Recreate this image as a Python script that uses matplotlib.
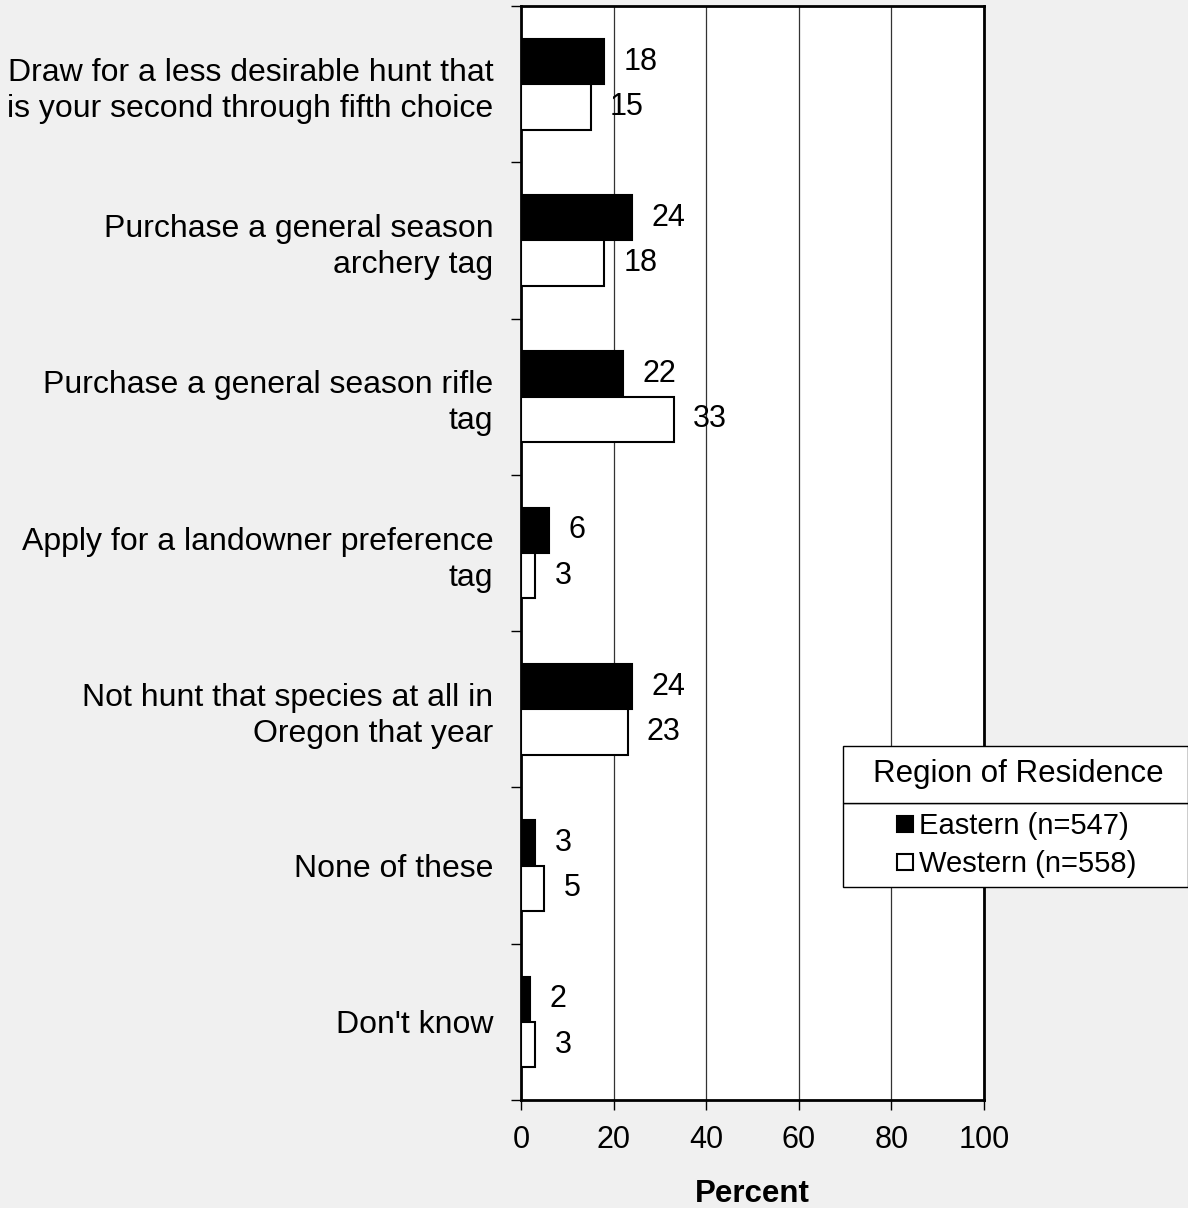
import numpy as np
import matplotlib.pyplot as plt
from matplotlib.lines import Line2D
from matplotlib.patches import Rectangle

plt.rcParams['font.family'] = ['Liberation Sans', 'DejaVu Sans']

# categorias (de cima para baixo) e percentuais por região
categorias = [
    "Draw for a less desirable hunt that\nis your second through fifth choice",
    "Purchase a general season\narchery tag",
    "Purchase a general season rifle\ntag",
    "Apply for a landowner preference\ntag",
    "Not hunt that species at all in\nOregon that year",
    "None of these",
    "Don't know",
]
leste = [18, 24, 22, 6, 24, 3, 2]
oeste = [15, 18, 33, 3, 23, 5, 3]
rotulos_serie = ["Eastern (n=547)", "Western (n=558)"]
titulo_legenda = "Region of Residence"
xticks = [0, 20, 40, 60, 80, 100]

fundo = '#f0f0f0'
fig = plt.figure(figsize=(11.88, 12.08), dpi=100, facecolor=fundo)
ax = fig.add_axes([0.4386, 0.0894, 0.3897, 0.9056])
ax.set_facecolor('white')

y = np.arange(len(categorias))
h = 0.29
ax.barh(y - h / 2, leste, height=h, color='black', edgecolor='black', linewidth=1.5, zorder=3)
ax.barh(y + h / 2, oeste, height=h, color='white', edgecolor='black', linewidth=1.5, zorder=3)

for i in range(len(categorias)):
    ax.annotate(str(leste[i]), (leste[i], y[i] - h / 2), xytext=(14, 0), textcoords='offset points',
                ha='left', va='center', fontsize=22)
    ax.annotate(str(oeste[i]), (oeste[i], y[i] + h / 2), xytext=(14, 0), textcoords='offset points',
                ha='left', va='center', fontsize=22)

ax.set_xlim(0, 100)
ax.set_ylim(len(categorias) - 0.5, -0.5)
ax.set_xticks(xticks)
ax.set_xticklabels([str(v) for v in xticks], fontsize=22)
ax.tick_params(axis='x', length=7, width=1, pad=11)

# ticks maiores nos limites das categorias, rótulos nos centros
ax.set_yticks(np.arange(-0.5, len(categorias), 1.0))
ax.set_yticklabels([])
ax.tick_params(axis='y', which='major', length=7, width=1)
ax.set_yticks(y, minor=True)
ax.set_yticklabels(categorias, minor=True, fontsize=23, ha='right', linespacing=1.27)
ax.tick_params(axis='y', which='minor', length=0, pad=20)

ax.grid(axis='x', color='#333333', linewidth=0.9, zorder=0)
for s in ax.spines.values():
    s.set_linewidth(2)

ax.set_xlabel('Percent', fontsize=22.5, fontweight='bold', labelpad=17)

# legenda com caixa de título separada
handles = [
    Line2D([], [], marker='s', linestyle='none', markersize=11, markerfacecolor='black',
           markeredgecolor='black', markeredgewidth=1.5),
    Line2D([], [], marker='s', linestyle='none', markersize=11, markerfacecolor='white',
           markeredgecolor='black', markeredgewidth=1.5),
]
leg = fig.legend(handles, rotulos_serie, loc='center', bbox_to_anchor=(0.8555, 0.3005),
                 fontsize=21, frameon=False, handlelength=0.6, handletextpad=0.2,
                 labelspacing=0.33, borderpad=0)
fig.patches.append(Rectangle((0.7096, 0.2657), 0.2904, 0.0696, transform=fig.transFigure,
                             facecolor='white', edgecolor='black', linewidth=1, zorder=0))
fig.patches.append(Rectangle((0.7096, 0.3353), 0.2904, 0.0472, transform=fig.transFigure,
                             facecolor='white', edgecolor='black', linewidth=1, zorder=0))
fig.text(0.8568, 0.3589, titulo_legenda, ha='center', va='center', fontsize=22.5)

fig.savefig('out.png', dpi=100, facecolor=fundo)
